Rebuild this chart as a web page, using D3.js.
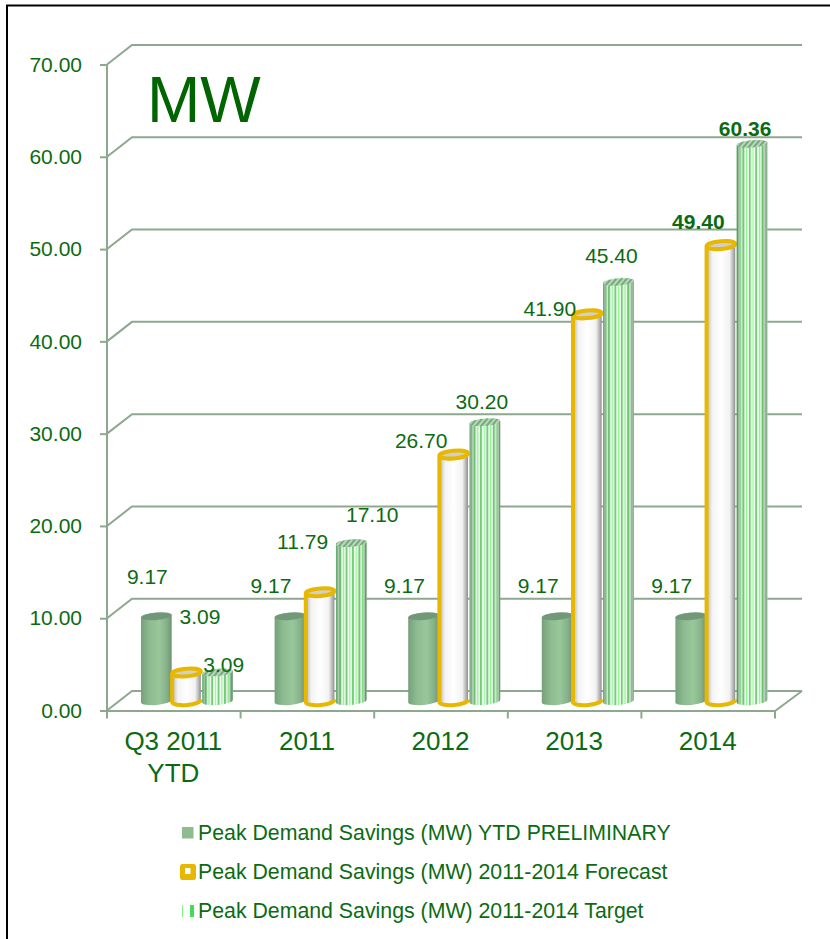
<!DOCTYPE html>
<html>
<head>
<meta charset="utf-8">
<script src="https://cdn.jsdelivr.net/npm/d3@7"></script>
<style>
    html, body { margin: 0; padding: 0; background: #fff; }
    svg { display: block; }
    text { font-family: "Liberation Sans", Arial, sans-serif; }
</style>
</head>
<body>
<div id="chart"></div>
<script>
const categories = ["Q3 2011 YTD", "2011", "2012", "2013", "2014"];
const seriesNames = ["ytd", "forecast", "target"];
const ytdValues = [9.17, 9.17, 9.17, 9.17, 9.17];
const forecastValues = [3.09, 11.79, 26.70, 41.90, 49.40];
const targetValues = [3.09, 17.10, 30.20, 45.40, 60.36];
const yTicks = [0, 10, 20, 30, 40, 50, 60, 70];
const legendLabels = [
    "Peak Demand Savings (MW) YTD PRELIMINARY",
    "Peak Demand Savings (MW) 2011-2014 Forecast",
    "Peak Demand Savings (MW) 2011-2014 Target"
];
const chartTitle = "MW";

// data labels were hand placed in the original, so each one gets its own nudge from the bar top
const labelNudge = {
    ytd: [[-9, -40], [-19, -31], [-19, -31], [-19, -31], [-19, -31]],
    forecast: [[13, -56], [-18, -51], [-33, -14], [-38, -6], [-23, -24]],
    target: [[6, -8], [21, -29], [-3, -21], [-7, -27], [-7, -16]]
};
const boldLabels = ["49.40", "60.36"];

const width = 830;
const height = 939;
const textColor = "#0c6b12";
const gridColor = "#8ea88f";
const yellow = "#e8b800";
const depth = { x: 25, y: 19.5 };

const svg = d3.select("#chart").append("svg")
    .attr("width", width)
    .attr("height", height);

const defs = svg.append("defs");

function addShade(id, stops) {
    const grad = defs.append("linearGradient").attr("id", id)
        .attr("x1", 0).attr("x2", 1).attr("y1", 0).attr("y2", 0);
    stops.forEach(s => grad.append("stop")
        .attr("offset", s[0]).attr("stop-color", s[1]).attr("stop-opacity", s[2] === undefined ? 1 : s[2]));
}
addShade("ytdShade", [[0, "#76a07c"], [0.3, "#8fbd92"], [0.6, "#98c79a"], [0.85, "#86b089"], [1, "#6c9072"]]);
addShade("forecastShade", [[0, "#b4b4b4"], [0.2, "#f4f4f4"], [0.5, "#ffffff"], [0.8, "#f2f2f2"], [1, "#8f8f8f"]]);
addShade("targetShade", [[0, "#3f7a49", 0.7], [0.18, "#5c8f62", 0.12], [0.5, "#ffffff", 0], [0.82, "#5c8f62", 0.12], [1, "#4b6d52", 0.6]]);

const stripes = defs.append("pattern").attr("id", "targetStripes")
    .attr("patternUnits", "userSpaceOnUse").attr("width", 6.4).attr("height", 10);
stripes.append("rect").attr("width", 6.4).attr("height", 10).attr("fill", "#fff");
stripes.append("rect").attr("x", 0).attr("width", 2).attr("height", 10).attr("fill", "#74cc78");
stripes.append("rect").attr("x", 3.6).attr("width", 1.3).attr("height", 10).attr("fill", "#8cfb8c");

const hatch = defs.append("pattern").attr("id", "targetHatch")
    .attr("patternUnits", "userSpaceOnUse").attr("width", 4).attr("height", 4)
    .attr("patternTransform", "rotate(45)");
hatch.append("rect").attr("width", 4).attr("height", 4).attr("fill", "#b9d6bb");
hatch.append("rect").attr("width", 2).attr("height", 4).attr("fill", "#76a97d");

// frame, only the left and top edges are in the picture
svg.append("path")
    .attr("d", "M7,939V5.5H830")
    .attr("fill", "none").attr("stroke", "#000").attr("stroke-width", 2);

const y = d3.scaleLinear().domain([0, 70]).range([710.5, 64.5]);
const x = d3.scaleBand().domain(categories).range([107, 775]);
const xInner = d3.scaleBand().domain(seriesNames).range([34, 126]);

const left = x.range()[0];
const right = x.range()[1];
const backRight = right + depth.x + 2;

// back wall and side wall lines
const grid = svg.append("g").attr("fill", "none").attr("stroke", gridColor).attr("stroke-width", 2);
yTicks.forEach(t => {
    grid.append("path").attr("d", d3.line()([
        [left, y(t)],
        [left + depth.x, y(t) - depth.y],
        [backRight, y(t) - depth.y]
    ]));
});
// floor
grid.append("path").attr("d", d3.line()([
    [left, y(0) + 0.5],
    [right, y(0) + 0.5],
    [backRight, y(0) - depth.y]
]));

const yAxis = svg.append("g")
    .attr("transform", `translate(${left},0)`)
    .call(d3.axisLeft(y).tickValues(yTicks).tickFormat(d3.format(".2f")).tickSize(7).tickPadding(18));
yAxis.select(".domain").attr("stroke", gridColor).attr("stroke-width", 2).attr("d", `M0,${y(70)}V${y(0) + 1}`);
yAxis.selectAll(".tick line").attr("stroke", gridColor).attr("stroke-width", 2);
yAxis.selectAll(".tick text").attr("fill", textColor).style("font-size", "21px");

// ticks between the categories
svg.append("g").selectAll("line")
    .data(categories.concat("end"))
    .join("line")
    .attr("x1", (d, i) => left + i * x.bandwidth())
    .attr("x2", (d, i) => left + i * x.bandwidth())
    .attr("y1", y(0))
    .attr("y2", y(0) + 8)
    .attr("stroke", gridColor)
    .attr("stroke-width", 2);

const xLabels = svg.append("g").selectAll("text")
    .data(categories)
    .join("text")
    .attr("text-anchor", "middle")
    .attr("fill", textColor)
    .style("font-size", "26px");
xLabels.each(function (d) {
    const parts = d.includes("YTD") ? ["Q3 2011", "YTD"] : [d];
    const cx = x(d) + x.bandwidth() / 2 - 0.5;
    d3.select(this).selectAll("tspan").data(parts).join("tspan")
        .attr("x", cx)
        .attr("y", (p, i) => 750 + i * 32)
        .text(p => p);
});

svg.append("text")
    .attr("x", 147).attr("y", 122)
    .attr("fill", "#006400")
    .style("font-size", "64px")
    .text(chartTitle);

// cylinders
const baseY = 701;
const yOff = y(0) - baseY;
const tilt = 1.4;
const tiltDeg = -5;
const rows = seriesNames.map((s, k) => ({
    key: s,
    values: [ytdValues, forecastValues, targetValues][k]
}));
const barW = xInner.bandwidth();

function bodyPath(cx, top, rx, ry) {
    return `M${cx - rx},${top + tilt}V${baseY + tilt}A${rx},${ry} ${tiltDeg} 0 0 ${cx + rx},${baseY - tilt}`
        + `V${top - tilt}A${rx},${ry} ${tiltDeg} 0 0 ${cx - rx},${top + tilt}Z`;
}

function capEllipse(g, cx, top, rx, ry) {
    return g.append("ellipse")
        .attr("cx", cx).attr("cy", top)
        .attr("rx", rx).attr("ry", ry)
        .attr("transform", `rotate(${tiltDeg} ${cx} ${top})`);
}

const labels = [];
categories.forEach((cat, i) => {
    const g = svg.append("g");
    rows.forEach(row => {
        const v = row.values[i];
        const cx = x(cat) + xInner(row.key) + barW / 2;
        const top = y(v) - yOff;
        const rx = barW / 2;
        if (row.key === "ytd") {
            g.append("path").attr("d", bodyPath(cx, top, rx, 4)).attr("fill", "url(#ytdShade)");
            capEllipse(g, cx, top, rx, 3.6).attr("fill", "#739879");
        } else if (row.key === "forecast") {
            const inner = rx - 1;
            g.append("path").attr("d", bodyPath(cx - 0.5, top, inner, 4)).attr("fill", "url(#forecastShade)");
            g.append("path")
                .attr("d", `M${cx - 0.5 - inner},${top + tilt}V${baseY + tilt}A${inner},4 ${tiltDeg} 0 0 ${cx - 0.5 + inner},${baseY - tilt}`)
                .attr("fill", "none").attr("stroke", yellow).attr("stroke-width", 4);
            capEllipse(g, cx - 0.5, top, inner, 3.8)
                .attr("fill", "#cfcfcf").attr("stroke", yellow).attr("stroke-width", 4);
        } else {
            g.append("path").attr("d", bodyPath(cx, top, rx, 4)).attr("fill", "url(#targetStripes)");
            g.append("path").attr("d", bodyPath(cx, top, rx, 4)).attr("fill", "url(#targetShade)");
            capEllipse(g, cx, top, rx, 3.6).attr("fill", "url(#targetHatch)");
        }
        const nudge = labelNudge[row.key][i];
        labels.push({ text: v.toFixed(2), x: cx + nudge[0], y: top + nudge[1] });
    });
});

svg.append("g").selectAll("text")
    .data(labels)
    .join("text")
    .attr("x", d => d.x)
    .attr("y", d => d.y)
    .attr("text-anchor", "middle")
    .attr("dy", "0.36em")
    .attr("fill", textColor)
    .attr("font-weight", d => boldLabels.includes(d.text) ? "bold" : "normal")
    .style("font-size", "21px")
    .text(d => d.text);

// legend
const legendY = d3.scalePoint().domain(legendLabels).range([832, 910]);
const legend = svg.append("g");
legend.selectAll("text")
    .data(legendLabels)
    .join("text")
    .attr("x", 198)
    .attr("y", d => legendY(d))
    .attr("dy", "0.36em")
    .attr("fill", textColor)
    .style("font-size", "21.3px")
    .text(d => d);

legend.append("rect")
    .attr("x", 182).attr("y", legendY(legendLabels[0]) - 5)
    .attr("width", 11.5).attr("height", 11.5)
    .attr("fill", "#8fbb90");
legend.append("rect")
    .attr("x", 180).attr("y", legendY(legendLabels[1]) - 7)
    .attr("width", 16).attr("height", 16).attr("rx", 2.5)
    .attr("fill", yellow);
legend.append("rect")
    .attr("x", 185).attr("y", legendY(legendLabels[1]) - 3)
    .attr("width", 5.5).attr("height", 6)
    .attr("fill", "#fff");
const markY = legendY(legendLabels[2]);
legend.append("rect").attr("x", 182).attr("y", markY - 5).attr("width", 1).attr("height", 12).attr("fill", "#7cf57f");
legend.append("rect").attr("x", 190).attr("y", markY - 5).attr("width", 4).attr("height", 12).attr("fill", "#45dc55");
</script>
</body>
</html>
